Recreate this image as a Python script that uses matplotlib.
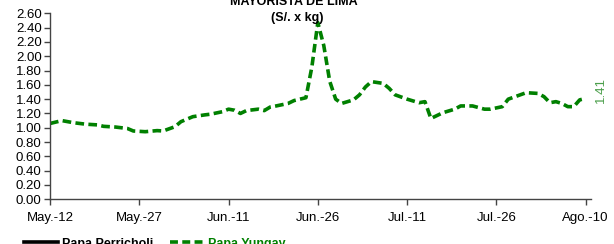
import matplotlib
matplotlib.use("Agg")
import matplotlib.pyplot as plt
from matplotlib.lines import Line2D
import numpy as np

plt.rcParams['font.family'] = ['Liberation Sans', 'DejaVu Sans']

# Days since May 12 and price (S/. x kg) for Papa Yungay
days = [0, 2, 4, 6, 8, 9, 11, 13, 14, 16, 18, 19, 21, 22, 24, 26, 27, 29, 30, 31,
        32, 33, 35, 36, 37, 38, 40, 41, 43, 44, 45, 46, 47, 48, 49, 51, 52, 53, 54,
        56, 57, 58, 60, 62, 63, 64, 66, 68, 69, 71, 73, 74, 76, 77, 79, 80, 82, 83,
        84, 85, 86, 87, 88, 89, 90]
yungay = [1.06, 1.10, 1.07, 1.05, 1.04, 1.02, 1.01, 0.99, 0.955, 0.945, 0.96, 0.955,
          1.015, 1.085, 1.155, 1.18, 1.19, 1.225, 1.26, 1.245, 1.20, 1.24, 1.26, 1.24,
          1.29, 1.305, 1.34, 1.38, 1.42, 1.85, 2.47, 2.15, 1.65, 1.40, 1.34, 1.39,
          1.46, 1.57, 1.645, 1.62, 1.55, 1.46, 1.40, 1.35, 1.365, 1.13, 1.21, 1.26,
          1.305, 1.305, 1.26, 1.26, 1.295, 1.40, 1.46, 1.49, 1.48, 1.435, 1.35, 1.365,
          1.34, 1.295, 1.295, 1.39, 1.41]

tick_days = [0, 15, 30, 45, 60, 75, 90]
tick_labels = ['May.-12', 'May.-27', 'Jun.-11', 'Jun.-26', 'Jul.-11', 'Jul.-26', 'Ago.-10']
yticks = np.round(np.arange(0, 2.61, 0.2), 2)

green = '#008000'
label_green = '#4a9e4a'

fig = plt.figure(figsize=(6.14, 2.44), dpi=100)
ax = fig.add_axes([50/614, 1 - 199.3/244, (591-50)/614, (199.3-13.3)/244])

ax.plot(days, yungay, color=green, lw=2.6, linestyle=(0, (2.4, 1.2)),
        solid_capstyle='butt', dash_capstyle='butt')
ax.plot([], [], color='black', lw=2.6)

ax.set_xlim(0, 90.9)
ax.set_ylim(0, 2.6)
ax.set_xticks(tick_days)
ax.set_xticklabels(tick_labels, fontsize=9.5)
ax.set_yticks(yticks)
ax.set_yticklabels([f'{v:.2f}' for v in yticks], fontsize=9.5)
for s in ['top', 'right']:
    ax.spines[s].set_visible(False)
for s in ['left', 'bottom']:
    ax.spines[s].set_color('#444444')
    ax.spines[s].set_linewidth(1.0)
ax.tick_params(axis='both', direction='out', length=4, color='#444444', width=1.0, pad=2)
ax.tick_params(axis='x', pad=5)

# last value label
ax.annotate(f'{yungay[-1]:.2f}', xy=(days[-1], yungay[-1]), xytext=(11, 6),
            textcoords='offset points', rotation=90, color=label_green,
            fontsize=9.5, ha='center', va='center', annotation_clip=False)

# title (cropped at the top)
fig.text(294/614, 1 - 2/244, 'MAYORISTA DE LIMA', ha='center', va='center',
         fontsize=9, fontweight='bold')
fig.text(297/614, 1 - 18/244, '(S/. x kg)', ha='center', va='center',
         fontsize=9, fontweight='bold')

# legend (cropped at the bottom)
yl = 1 - 242/244
fig.add_artist(Line2D([24/614, 58/614], [yl, yl], color='black', lw=2.6,
                      transform=fig.transFigure))
fig.text(62/614, 1 - 244/244, 'Papa Perricholi', ha='left', va='center',
         fontsize=9, fontweight='bold', color='black')
fig.add_artist(Line2D([170/614, 205/614], [yl, yl], color=green, lw=2.6,
                      linestyle=(0, (2.2, 1.2)), transform=fig.transFigure))
fig.text(208/614, 1 - 244/244, 'Papa Yungay', ha='left', va='center',
         fontsize=9, fontweight='bold', color=green)

fig.savefig('out.png', dpi=100)
